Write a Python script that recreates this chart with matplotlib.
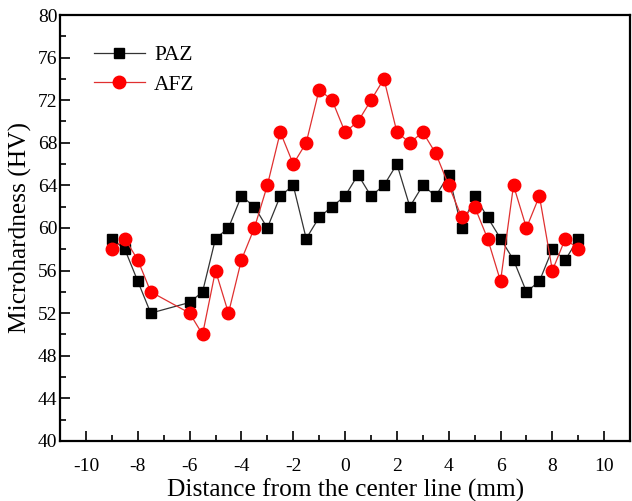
import numpy as np
import matplotlib.pyplot as plt
from matplotlib.ticker import MultipleLocator

plt.rcParams['font.family'] = ['Liberation Serif', 'DejaVu Serif']
plt.rcParams['axes.unicode_minus'] = False

x_paz = [-9, -8.5, -8, -7.5, -6, -5.5, -5, -4.5, -4, -3.5, -3, -2.5, -2, -1.5, -1, -0.5,
         0, 0.5, 1, 1.5, 2, 2.5, 3, 3.5, 4, 4.5, 5, 5.5, 6, 6.5, 7, 7.5, 8, 8.5, 9]
paz = [59, 58, 55, 52, 53, 54, 59, 60, 63, 62, 60, 63, 64, 59, 61, 62,
       63, 65, 63, 64, 66, 62, 64, 63, 65, 60, 63, 61, 59, 57, 54, 55, 58, 57, 59]

x_afz = x_paz
afz = [58, 59, 57, 54, 52, 50, 56, 52, 57, 60, 64, 69, 66, 68, 73, 72,
       69, 70, 72, 74, 69, 68, 69, 67, 64, 61, 62, 59, 55, 64, 60, 63, 56, 59, 58]

fig = plt.figure(figsize=(6.32, 5.01), dpi=100)
ax = fig.add_axes([0.095, 0.12, 0.902, 0.85])

ax.plot(x_paz, paz, color='#333333', lw=0.9, marker='s', ms=7.8,
        mfc='black', mec='black', label='PAZ')
ax.plot(x_afz, afz, color='#e03030', lw=0.9, marker='o', ms=9,
        mfc='red', mec='red', label='AFZ')

ax.set_xlim(-11, 11)
ax.set_ylim(40, 80)
ax.xaxis.set_major_locator(MultipleLocator(2))
ax.xaxis.set_minor_locator(MultipleLocator(1))
ax.yaxis.set_major_locator(MultipleLocator(4))
ax.yaxis.set_minor_locator(MultipleLocator(2))
ax.tick_params(which='major', direction='in', length=7, width=1.2, labelsize=14)
ax.tick_params(which='minor', direction='in', length=4, width=1.2)
ax.tick_params(axis='x', pad=12)
ax.tick_params(axis='y', pad=2)
for s in ax.spines.values():
    s.set_linewidth(1.6)

ax.set_xlabel('Distance from the center line (mm)', fontsize=18.3, labelpad=3)
ax.set_ylabel('Microhardness (HV)', fontsize=18.3, labelpad=4)

ax.legend(loc='upper left', bbox_to_anchor=(0.025, 0.975), frameon=False,
          fontsize=15.5, handlelength=2.4, handletextpad=0.4, labelspacing=0.45)

fig.savefig('out.png', dpi=100)
